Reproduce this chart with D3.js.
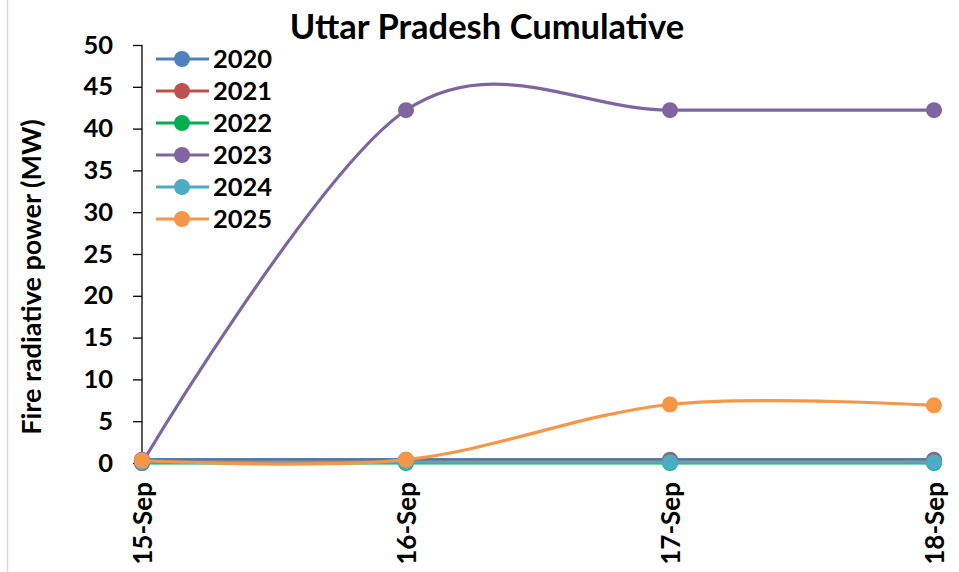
<!DOCTYPE html>
<html><head><meta charset="utf-8">
<script src="https://cdn.jsdelivr.net/npm/d3@7"></script>
<style>body{margin:0;background:#fff}svg{display:block;font-family:Lato,"Open Sans",sans-serif;font-weight:700}</style>
</head><body>
<script>
const categories = ["15-Sep","16-Sep","17-Sep","18-Sep"];
const seriesNames = ["2020","2021","2022","2023","2024","2025"];
const v2020 = [0.4,0.4,0.4,0.4];
const v2021 = [0.3,0.3,0.3,0.3];
const v2022 = [0,0,0,0];
const v2023 = [0,42.2,42.2,42.2];
const v2024 = [0.1,0.1,0.1,0.1];
const v2025 = [0.3,0.4,7.0,6.9];
const yTicks = [0,5,10,15,20,25,30,35,40,45,50];
const colors = ["#4f81bd","#c0504d","#00b050","#8064a2","#4bacc6","#f79646"];
const values = [v2020,v2021,v2022,v2023,v2024,v2025];

const W=959,H=572;
const svg=d3.select("body").append("svg").attr("width",W).attr("height",H);
svg.append("line").attr("x1",7.5).attr("x2",7.5).attr("y1",0).attr("y2",H).attr("stroke","#d9d9d9").attr("stroke-width",1.5);

const x=d3.scalePoint().domain(categories).range([142,934]);
const y=d3.scaleLinear().domain([0,50]).range([463,45]);

const F="Lato,sans-serif";
// y axis
const ya=svg.append("g").attr("transform","translate(142,0)").call(d3.axisLeft(y).tickValues(yTicks).tickSize(9).tickPadding(20));
ya.select(".domain").attr("stroke","#000").attr("stroke-width",1.3).attr("d","M0,45V463");
ya.selectAll(".tick line").attr("stroke","#000").attr("stroke-width",1.3);
ya.selectAll(".tick text").attr("font-size",25.5).attr("font-weight",700).attr("fill","#000").attr("font-family",F);

// x axis
const xa=svg.append("g").attr("transform","translate(0,463)").call(d3.axisBottom(x).tickSize(7).tickPadding(0));
xa.select(".domain").attr("stroke","#000").attr("stroke-width",1.3).attr("d","M142,0H934");
xa.selectAll(".tick line").attr("stroke","#000").attr("stroke-width",1.3);
xa.selectAll(".tick text").attr("font-size",26).attr("font-weight",700).attr("fill","#000").attr("font-family",F)
  .attr("transform","translate(0,19) rotate(-90)").attr("text-anchor","end").attr("dy","0.35em").attr("y",0).attr("x",0);

const line=d3.line().x((d,i)=>x(categories[i])).y(d=>y(d)).curve(d3.curveCardinal.tension(0));
values.forEach((vals,k)=>{
  const g=svg.append("g");
  g.append("path").attr("d",line(vals)).attr("fill","none").attr("stroke",colors[k]).attr("stroke-width",3.2);
  g.selectAll("circle").data(vals).join("circle").attr("cx",(d,i)=>x(categories[i])).attr("cy",d=>y(d)).attr("r",8).attr("fill",colors[k]);
});

// legend
const lg=svg.append("g");
seriesNames.forEach((n,k)=>{
  const yy=59+32*k;
  lg.append("line").attr("x1",156).attr("x2",209).attr("y1",yy).attr("y2",yy).attr("stroke",colors[k]).attr("stroke-width",3.2);
  lg.append("circle").attr("cx",182).attr("cy",yy).attr("r",8).attr("fill",colors[k]);
  lg.append("text").attr("x",213).attr("y",yy).attr("dy","0.35em").attr("font-size",25.5).attr("fill","#000").text(n);
});

svg.append("text").attr("x",487).attr("y",27).attr("dy","0.35em").attr("text-anchor","middle").attr("font-size",34.5).attr("fill","#000").text("Uttar Pradesh Cumulative");
svg.append("text").attr("transform","translate(32,277) rotate(-90)").attr("dy","0.35em").attr("text-anchor","middle").attr("font-size",27).attr("fill","#000").text("Fire radiative power (MW)");
</script>
</body></html>
